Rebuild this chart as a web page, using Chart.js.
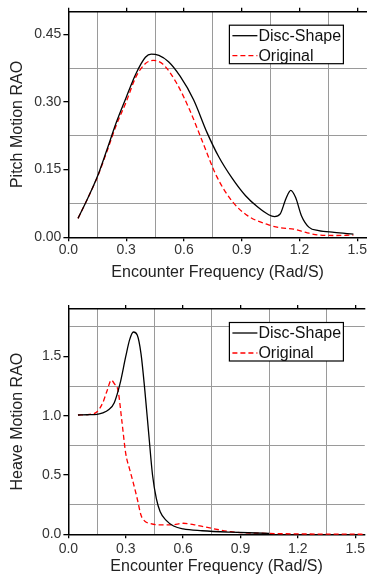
<!DOCTYPE html>
<html>
<head>
<meta charset="utf-8">
<script src="https://cdn.jsdelivr.net/npm/chart.js@4.4.1/dist/chart.umd.min.js"></script>
<style>
  html, body { margin: 0; padding: 0; background: #fff; }
  body { width: 367px; height: 576px; position: relative; overflow: hidden; }
  #pitchBox { position: absolute; left: 0; top: 0; width: 367px; height: 290px; }
  #heaveBox { position: absolute; left: 0; top: 290px; width: 367px; height: 286px; }
</style>
</head>
<body>
<div id="pitchBox"><canvas id="pitchChart" width="367" height="290"></canvas></div>
<div id="heaveBox"><canvas id="heaveChart" width="367" height="286"></canvas></div>
<script>
// series names
const seriesLabels = ['Disc-Shape', 'Original'];

// pitch RAO (top panel)
const pitchFreqDisc = [0.05, 0.10, 0.15, 0.20, 0.25, 0.30, 0.35, 0.40, 0.43, 0.47, 0.52, 0.58, 0.65, 0.72, 0.78, 0.85, 0.92, 0.98, 1.04, 1.07, 1.10, 1.13, 1.155, 1.18, 1.21, 1.25, 1.30, 1.38, 1.48];
const pitchDisc     = [0.042, 0.086, 0.134, 0.194, 0.256, 0.310, 0.362, 0.399, 0.406, 0.403, 0.389, 0.357, 0.305, 0.232, 0.179, 0.131, 0.092, 0.068, 0.050, 0.046, 0.052, 0.086, 0.104, 0.088, 0.048, 0.022, 0.015, 0.011, 0.007];
const pitchFreqOrig = [0.05, 0.10, 0.15, 0.20, 0.25, 0.30, 0.35, 0.40, 0.44, 0.49, 0.56, 0.63, 0.70, 0.77, 0.85, 0.93, 1.03, 1.10, 1.17, 1.24, 1.30, 1.38, 1.48];
const pitchOrig     = [0.042, 0.086, 0.133, 0.190, 0.250, 0.300, 0.355, 0.385, 0.392, 0.384, 0.343, 0.282, 0.208, 0.135, 0.080, 0.048, 0.029, 0.021, 0.018, 0.010, 0.005, 0.004, 0.005];

// heave RAO (bottom panel)
const heaveFreqDisc = [0.05, 0.10, 0.15, 0.18, 0.21, 0.24, 0.27, 0.30, 0.32, 0.34, 0.36, 0.38, 0.40, 0.42, 0.44, 0.46, 0.48, 0.51, 0.55, 0.60, 0.70, 0.85, 1.05];
const heaveDisc     = [1.006, 1.008, 1.012, 1.024, 1.05, 1.11, 1.27, 1.50, 1.64, 1.706, 1.68, 1.52, 1.21, 0.85, 0.50, 0.30, 0.19, 0.12, 0.07, 0.045, 0.03, 0.018, 0.008];
const heaveFreqOrig = [0.05, 0.10, 0.15, 0.18, 0.20, 0.225, 0.24, 0.26, 0.28, 0.30, 0.32, 0.34, 0.36, 0.38, 0.40, 0.43, 0.47, 0.54, 0.60, 0.66, 0.72, 0.85, 1.03, 1.55];
const heaveOrig     = [1.006, 1.01, 1.034, 1.11, 1.20, 1.30, 1.27, 1.21, 0.95, 0.68, 0.55, 0.43, 0.30, 0.16, 0.11, 0.09, 0.08, 0.08, 0.093, 0.08, 0.06, 0.022, 0.008, 0.0];

// labelled ticks
const freqTicks  = [0.0, 0.3, 0.6, 0.9, 1.2, 1.5];
const pitchTicks = [0.00, 0.15, 0.30, 0.45];
const heaveTicks = [0.0, 0.5, 1.0, 1.5];

// labelled ticks plus the unlabelled midpoints where the grid lines sit
function withMinor(majors, max) {
  const step = majors[1] - majors[0];
  const out = [];
  majors.forEach(v => {
    out.push({ value: v, minor: false });
    const m = +(v + step / 2).toFixed(4);
    if (m <= max) out.push({ value: m, minor: true });
  });
  return out;
}

const gridStyle = {
  color: c => (c.tick && c.tick.minor) ? '#9a9a9a' : 'rgba(0,0,0,0)',
  tickColor: c => (c.tick && c.tick.minor) ? 'rgba(0,0,0,0)' : '#000',
  lineWidth: c => (c.tick && c.tick.minor) ? 1 : 1.3
};

// legend box drawn inside the plot area
const boxLegend = {
  id: 'boxLegend',
  afterDraw(chart, args, opts) {
    const { ctx, chartArea } = chart;
    const x = chartArea.left + opts.dx, y = chartArea.top + opts.dy;
    ctx.save();
    ctx.fillStyle = '#fff';
    ctx.fillRect(x, y, opts.w, opts.h);
    ctx.strokeStyle = '#000';
    ctx.lineWidth = 1.2;
    ctx.strokeRect(x, y, opts.w, opts.h);
    ctx.font = '16px "Liberation Sans", Arial, sans-serif';
    ctx.textBaseline = 'middle';
    chart.data.datasets.forEach((ds, i) => {
      const ry = y + 10.5 + i * 20;
      ctx.beginPath();
      ctx.strokeStyle = ds.borderColor;
      ctx.lineWidth = ds.borderWidth;
      ctx.setLineDash(ds.borderDash || []);
      ctx.moveTo(x + 3, ry);
      ctx.lineTo(x + 28, ry);
      ctx.stroke();
      ctx.setLineDash([]);
      ctx.fillStyle = '#111';
      ctx.fillText(ds.label, x + 29, ry + 1);
    });
    ctx.restore();
  }
};

function makeChart(id, cfg) {
  const xTickList = withMinor(freqTicks, cfg.xMax);
  const yTickList = withMinor(cfg.yTicks, cfg.yMax);
  return new Chart(document.getElementById(id), {
    type: 'line',
    data: {
      datasets: [
        {
          label: seriesLabels[0],
          data: cfg.fx0.map((f, i) => ({ x: f, y: cfg.v0[i] })),
          borderColor: '#000',
          borderWidth: 1.3,
          pointRadius: 0,
          cubicInterpolationMode: 'monotone',
          clip: false
        },
        {
          label: seriesLabels[1],
          data: cfg.fx1.map((f, i) => ({ x: f, y: cfg.v1[i] })),
          borderColor: '#ff0000',
          borderWidth: 1.3,
          borderDash: [5, 3],
          pointRadius: 0,
          cubicInterpolationMode: 'monotone',
          clip: false
        }
      ]
    },
    options: {
      responsive: false,
      animation: false,
      devicePixelRatio: 1,
      layout: { padding: { top: cfg.padTop, right: 0, bottom: 0, left: 0 } },
      scales: {
        x: {
          type: 'linear',
          position: 'bottom',
          min: 0,
          max: cfg.xMax,
          afterBuildTicks: s => { s.ticks = xTickList.map(t => ({ ...t })); },
          afterFit: s => { s.height = cfg.xAxisH; },
          ticks: {
            autoSkip: false,
            maxRotation: 0,
            padding: cfg.xTickPad,
            color: '#333',
            font: { family: '"Liberation Sans", Arial, sans-serif', size: 14 },
            callback: (v, i, ticks) => ticks[i].minor ? '' : v.toFixed(1)
          },
          grid: { ...gridStyle, tickLength: 4 },
          border: { color: '#000', width: 1.5 },
          title: {
            display: true,
            text: 'Encounter Frequency (Rad/S)',
            color: '#222',
            font: { family: '"Liberation Sans", Arial, sans-serif', size: 16 },
            padding: { top: 0, bottom: cfg.xTitlePad }
          }
        },
        xTop: {
          type: 'linear',
          position: 'top',
          min: 0,
          max: cfg.xMax,
          afterBuildTicks: s => { s.ticks = xTickList.map(t => ({ ...t })); },
          afterFit: s => { s.height = 4; },
          ticks: { display: false },
          grid: {
            drawOnChartArea: false,
            tickLength: 4,
            tickColor: gridStyle.tickColor,
            lineWidth: 1.3
          },
          border: { color: '#000', width: 1.5 }
        },
        y: {
          type: 'linear',
          min: 0,
          max: cfg.yMax,
          afterBuildTicks: s => { s.ticks = yTickList.map(t => ({ ...t })); },
          afterFit: s => { s.width = 68.4; },
          ticks: {
            autoSkip: false,
            padding: 2,
            color: '#333',
            font: { family: '"Liberation Sans", Arial, sans-serif', size: 14 },
            callback: (v, i, ticks) => ticks[i].minor ? '' : v.toFixed(cfg.yDigits)
          },
          grid: { ...gridStyle, tickLength: 5 },
          border: { color: '#000', width: 1.5 },
          title: {
            display: true,
            text: cfg.yTitle,
            color: '#222',
            font: { family: '"Liberation Sans", Arial, sans-serif', size: 16 },
            padding: { top: 8.4, bottom: 0 }
          }
        }
      },
      plugins: {
        legend: { display: false },
        tooltip: { enabled: false },
        boxLegend: { dx: 161, dy: 13.5, w: 114, h: 38.5 }
      }
    },
    plugins: [boxLegend]
  });
}

makeChart('pitchChart', {
  fx0: pitchFreqDisc, v0: pitchDisc, fx1: pitchFreqOrig, v1: pitchOrig,
  xMax: 1.55, yMax: 0.5, yTicks: pitchTicks, yDigits: 2,
  yTitle: 'Pitch Motion RAO',
  padTop: 7.7, xAxisH: 52.7, xTickPad: 0, xTitlePad: 7.4
});

makeChart('heaveChart', {
  fx0: heaveFreqDisc, v0: heaveDisc, fx1: heaveFreqOrig, v1: heaveOrig,
  xMax: 1.55, yMax: 1.9, yTicks: heaveTicks, yDigits: 1,
  yTitle: 'Heave Motion RAO',
  padTop: 15, xAxisH: 41.7, xTickPad: 2, xTitlePad: 0
});
</script>
</body>
</html>
